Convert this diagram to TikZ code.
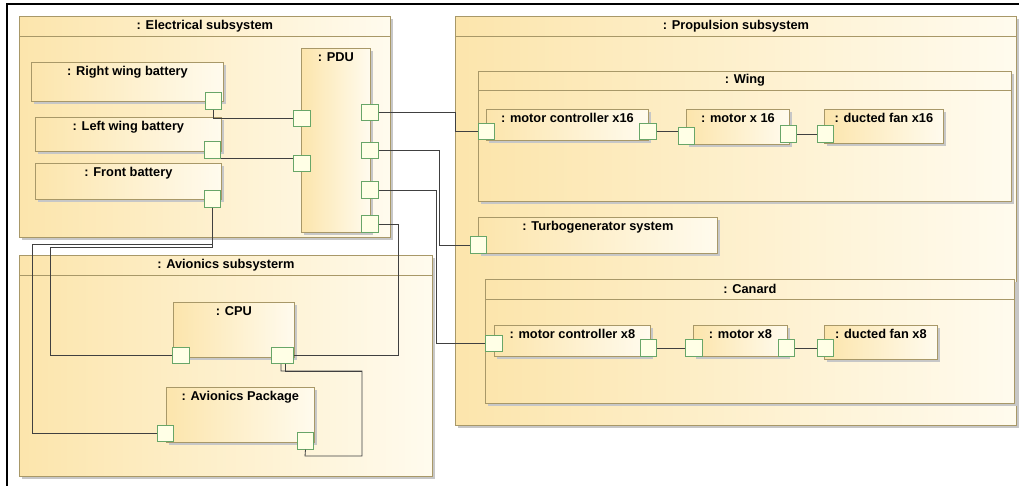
\documentclass[tikz,border=0pt]{standalone}
\usepackage{fontspec}
\setmainfont{Liberation Sans}
\usetikzlibrary{shadows}
\definecolor{partleft}{RGB}{252,229,172}
\definecolor{partright}{RGB}{255,251,238}
\definecolor{partline}{RGB}{168,152,104}
\definecolor{portfill}{RGB}{255,255,230}
\definecolor{portline}{RGB}{104,166,104}
\definecolor{wirecol}{RGB}{64,64,64}
\newcommand{\ttlfont}{\fontsize{12.8}{14}\selectfont\bfseries}

\begin{document}
\begin{tikzpicture}[x=1pt, y=-1pt,
  part/.style={draw=partline, line width=0.8pt, left color=partleft, right color=partright,
               anchor=north west, inner sep=0pt,
               drop shadow={shadow xshift=2.5pt, shadow yshift=-2.5pt, fill=black!22, opacity=1}},
  ttl/.style={font=\ttlfont, inner sep=1pt, anchor=north, yshift=-3pt},
  hdr/.style={font=\ttlfont, inner sep=1pt, anchor=center, yshift=-10pt},
  hdrline/.style={draw=partline, line width=0.8pt},
  port/.style={draw=portline, line width=0.8pt, fill=portfill, minimum size=16.5pt, inner sep=0pt},
  wire/.style={draw=wirecol, line width=0.8pt}
]
\useasboundingbox (0,0) rectangle (1019,486);
\draw[line width=2pt] (7,486) -- (7,4.5) -- (1019,4.5);

% subsystem frames
\node[part, minimum width=371pt, minimum height=221pt,
      label={[hdr]north:{: Electrical subsystem}}] (elec) at (19,16) {};
\node[part, minimum width=413pt, minimum height=221pt,
      label={[hdr]north:{: Avionics subsysterm}}] (avio) at (19,255) {};
\node[part, minimum width=561pt, minimum height=409pt,
      label={[hdr]north:{: Propulsion subsystem}}] (prop) at (455,16) {};
\node[part, minimum width=533pt, minimum height=130pt,
      label={[hdr, yshift=0.5pt]north:{: Wing}}] (wing) at (478,71) {};
\node[part, minimum width=529pt, minimum height=124pt,
      label={[hdr]north:{: Canard}}] (canard) at (485,279) {};
\foreach \f/\h in {elec/20,avio/20,prop/20,wing/19,canard/20}
  \draw[hdrline] ([yshift=-\h pt]\f.north west) -- ([yshift=-\h pt]\f.north east);

% electrical parts
\node[part, minimum width=192pt, minimum height=39pt,
      label={[ttl]north:{: Right wing battery}}] (rwb) at (31,62) {};
\node[part, minimum width=186pt, minimum height=34pt,
      label={[ttl]north:{: Left wing battery}}] (lwb) at (35,117) {};
\node[part, minimum width=186pt, minimum height=36pt,
      label={[ttl]north:{: Front battery}}] (fb) at (35,163) {};
\node[part, minimum width=69pt, minimum height=184pt,
      label={[ttl]north:{: PDU}}] (pdu) at (301,48) {};

% avionics parts
\node[part, minimum width=121pt, minimum height=55pt,
      label={[ttl]north:{: CPU}}] (cpu) at (173,302) {};
\node[part, minimum width=148pt, minimum height=55pt,
      label={[ttl]north:{: Avionics Package}}] (ap) at (166,387) {};

% propulsion parts
\node[part, minimum width=162pt, minimum height=31pt,
      label={[ttl]north:{: motor controller x16}}] (mc16) at (486,109) {};
\node[part, minimum width=103pt, minimum height=35pt,
      label={[ttl]north:{: motor x 16}}] (m16) at (686,109) {};
\node[part, minimum width=119pt, minimum height=34pt,
      label={[ttl]north:{: ducted fan x16}}] (df16) at (824,109) {};
\node[part, minimum width=239pt, minimum height=36pt,
      label={[ttl]north:{: Turbogenerator system}}] (tg) at (478,217) {};
\node[part, minimum width=156pt, minimum height=31pt,
      label={[ttl]north:{: motor controller x8}}] (mc8) at (494,325) {};
\node[part, minimum width=94pt, minimum height=31pt,
      label={[ttl]north:{: motor x8}}] (m8) at (693,325) {};
\node[part, minimum width=113pt, minimum height=34pt,
      label={[ttl]north:{: ducted fan x8}}] (df8) at (824,325) {};

% ports
\node[port] (rwbp) at (213.5,101) {};
\node[port] (lwbp) at (212.5,150) {};
\node[port] (fbp) at (212.5,199) {};
\node[port] (pdul1) at (302,118.5) {};
\node[port] (pdul2) at (302,163.5) {};
\node[port] (pdur1) at (370,112.5) {};
\node[port] (pdur2) at (370,150.5) {};
\node[port] (pdur3) at (370,190) {};
\node[port] (pdur4) at (370,224) {};
\node[port] (cpul) at (181,355.5) {};
\node[port, minimum width=22pt] (cpur) at (282.5,355.5) {};
\node[port] (apl) at (165.5,433.5) {};
\node[port] (apr) at (305.5,441) {};
\node[port] (mc16l) at (486.5,131.5) {};
\node[port] (mc16r) at (648,131.5) {};
\node[port] (m16l) at (686.5,136) {};
\node[port] (m16r) at (788.5,134) {};
\node[port] (df16l) at (825.5,134) {};
\node[port] (tgp) at (478.5,245) {};
\node[port] (mc8l) at (494,343.5) {};
\node[port] (mc8r) at (648.5,348) {};
\node[port] (m8l) at (694,348) {};
\node[port] (m8r) at (786.5,348) {};
\node[port] (df8l) at (825.5,348) {};

% connectors
\draw[wire] (rwbp.south) |- (pdul1.west);
\draw[wire] (lwbp.south east) -- (lwbp.south east -| pdul2.west);
\draw[wire] (fbp.south) |- (32,244) |- (apl.west);
\draw[wire] (fbp.south) |- (50,247) |- (cpul.west);
\draw[wire] (pdur4.east) -- (398,224) |- (cpur.east);
\draw[wire] ([xshift=-1.5pt]cpur.south) |- (362,371) |- (305,456) -- (apr.south);
\draw[wire] ([xshift=2.5pt]cpur.south) |- (362,371);
\draw[wire] (pdur1.east) -- (455,112.5) |- (mc16l.west);
\draw[wire] (pdur2.east) -- (439,150.5) |- (tgp.west);
\draw[wire] (pdur3.east) -- (436,190) |- (mc8l.west);
\draw[wire] (mc16r.east) -- (mc16r.east -| m16l.west);
\draw[wire] (m16r.east) -- (df16l.west);
\draw[wire] (mc8r.east) -- (m8l.west);
\draw[wire] (m8r.east) -- (df8l.west);
\end{tikzpicture}
\end{document}
